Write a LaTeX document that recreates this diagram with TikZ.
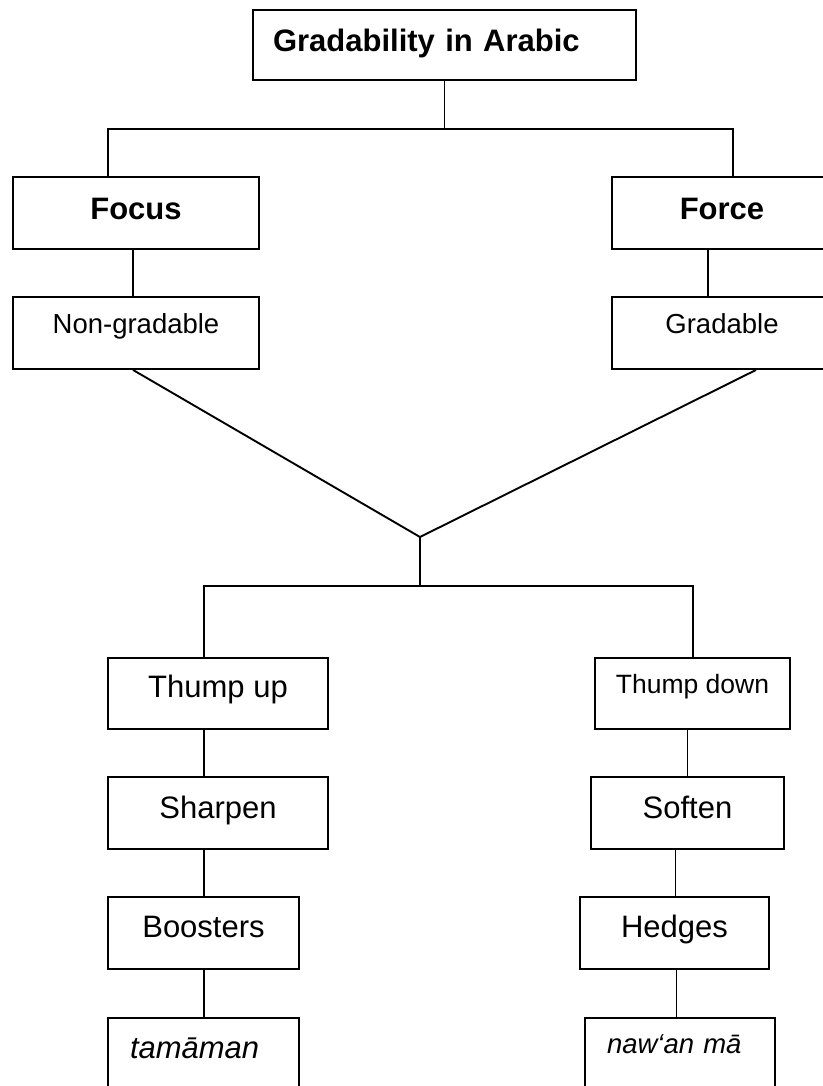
\documentclass[tikz,border=0pt]{standalone}
\usepackage{fontspec}
\setmainfont{Liberation Sans}
\usepackage{tikz}

\newcommand{\bigtxt}{\fontsize{31}{37}\selectfont}
\newcommand{\midtxt}{\fontsize{27.5}{33}\selectfont}
\newcommand{\smalltxt}{\fontsize{26.5}{32}\selectfont}

\begin{document}
\begin{tikzpicture}[x=1pt, y=-1pt, line width=1.9pt,
    box/.style={draw, rectangle, inner sep=0pt, text height=40pt, text depth=32pt},
    leftbox/.style={box, align=left, inner xsep=22pt}]
    \useasboundingbox (0,0) rectangle (822,1086);

    % top of the tree
    \node[box, align=left, inner xsep=20pt, text width=343pt, text height=42pt, text depth=28pt, font=\bigtxt\bfseries] (top) at (444.5,45) {Gradability in Arabic};
    \node[box, minimum width=246pt, text height=42pt, text depth=30pt, font=\bigtxt\bfseries] (focus) at (136,213) {Focus};
    \node[box, minimum width=220pt, text height=42pt, text depth=30pt, font=\bigtxt\bfseries] (force) at (722,213) {Force};
    \node[box, minimum width=246pt, text height=36pt, text depth=36pt, font=\midtxt] (nongrad) at (136,333) {Non-gradable};
    \node[box, minimum width=220pt, text height=36pt, text depth=36pt, font=\midtxt] (grad) at (722,333) {Gradable};

    \coordinate (tl) at (108,129);
    \coordinate (tr) at (733,129);
    \coordinate (apex) at (420,537);

    \draw (top.south) -- (top.south |- tl);
    \draw (tl |- focus.north) -- (tl) -- (tr) -- (tr |- force.north);
    \draw ([xshift=-3pt]focus.south) -- ([xshift=-3pt]nongrad.north);
    \draw ([xshift=-14pt]force.south) -- ([xshift=-14pt]grad.north);
    \draw ([xshift=-3pt]nongrad.south) -- (apex);
    \draw ([xshift=34pt]grad.south) -- (apex);

    % lower part
    \node[box, minimum width=220pt, text height=39pt, text depth=32pt, font=\bigtxt] (up) at (218,693.5) {Thump up};
    \node[box, minimum width=195pt, text height=35pt, text depth=36pt, font=\smalltxt] (down) at (692.5,693.5) {Thump down};
    \node[box, minimum width=220pt, text height=41pt, text depth=31pt, font=\bigtxt] (sharpen) at (218,813) {Sharpen};
    \node[box, minimum width=193pt, text height=41pt, text depth=31pt, font=\bigtxt] (soften) at (687.5,813) {Soften};
    \node[box, minimum width=191pt, font=\bigtxt] (boosters) at (203.5,933) {Boosters};
    \node[box, minimum width=189pt, font=\bigtxt] (hedges) at (674.5,933) {Hedges};
    \node[leftbox, text width=147pt, text height=40pt, text depth=31pt, font=\bigtxt\itshape] (tama) at (203.5,1053.5) {tamāman};
    \node[leftbox, text width=146pt, text height=35pt, text depth=36pt, font=\midtxt\itshape] (nawan) at (680,1053.5) {naw‘an mā};

    \coordinate (bl) at (204,586);
    \coordinate (br) at (693,586);

    \draw (apex) -- (apex |- bl);
    \draw (bl |- up.north) -- (bl) -- (br) -- (br |- down.north);
    \draw (bl |- up.south) -- (bl |- sharpen.north);
    \draw (bl |- sharpen.south) -- (bl |- boosters.north);
    \draw (bl |- boosters.south) -- (bl |- tama.north);
    \draw ([xshift=-5pt]down.south) -- ([xshift=-5pt]down.south |- soften.north);
    \draw ([xshift=-12pt]soften.south) -- ([xshift=-12pt]soften.south |- hedges.north);
    \draw ([xshift=2pt]hedges.south) -- ([xshift=2pt]hedges.south |- nawan.north);
\end{tikzpicture}
\end{document}
